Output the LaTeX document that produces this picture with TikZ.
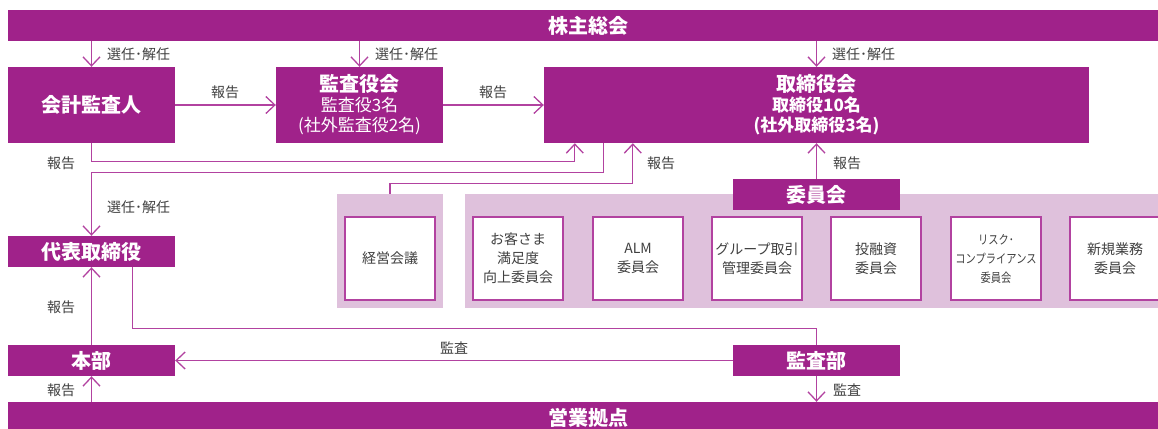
\documentclass[tikz,border=0pt]{standalone}
\usepackage{fontspec}
\setmainfont{Noto Sans CJK JP}
\usetikzlibrary{arrows.meta,calc}
\definecolor{mainpurple}{RGB}{160,34,138}
\definecolor{lightpink}{RGB}{223,193,220}
\definecolor{linepurple}{RGB}{178,66,160}
\definecolor{labelgray}{RGB}{64,64,64}
\tikzset{
  pbox/.style={fill=mainpurple, text=white, inner sep=0pt, align=center,
    font=\bfseries\fontsize{20}{22}\selectfont, minimum width=167pt, minimum height=31pt},
  groupbox/.style={fill=lightpink, inner sep=0pt, minimum height=114pt},
  ibox/.style={fill=white, draw=linepurple, line width=1.1pt, inner sep=0pt, align=center,
    text=labelgray, minimum width=90pt, minimum height=83pt,
    font=\fontsize{14}{19}\selectfont},
  lbl/.style={text=labelgray, inner sep=0pt, font=\fontsize{14}{16}\selectfont},
  conn/.style={draw=linepurple, line width=1.3pt},
  arr/.style={conn, -{Straight Barb[length=9pt,width=17pt]}}
}
\begin{document}
\begin{tikzpicture}[x=1pt,y=-1pt]
\useasboundingbox (0,0) rectangle (1158,428);
% bars
\node[pbox, minimum width=1160pt] (kabu) at (588,25.5) {株主総会};
\node[pbox, minimum width=1160pt] (eigyo) at (588,417.5) {営業拠点};
% main boxes
\node[pbox, minimum height=76pt] (kaikei) at (91.5,105) {会計監査人};
\node[pbox, minimum height=76pt, font=\fontsize{17}{20}\selectfont] (kansa) at (359.5,105)
  {{\bfseries\fontsize{20}{20}\selectfont 監査役会}\\監査役3名\\(社外監査役2名)};
\node[pbox, minimum width=545pt, minimum height=76pt, font=\bfseries\fontsize{17}{20}\selectfont] (tori) at (816.5,105)
  {{\fontsize{20}{20}\selectfont 取締役会}\\取締役10名\\(社外取締役3名)};
\node[pbox] (daihyo) at (91.5,251.5) {代表取締役};
\node[pbox] (honbu) at (91.5,360.5) {本部};
\node[pbox] (kansabu) at (816.5,360.5) {監査部};
% groups
\node[groupbox, minimum width=106pt] (g1) at (390,251) {};
\node[groupbox, minimum width=703pt] (g2) at (816.5,251) {};
\node[pbox] (iinkai) at (816.5,194.5) {委員会};
\node[ibox] (keiei) at (390,258.5) {経営会議};
\node[ibox] (okyaku) at (518,258.5) {お客さま\\満足度\\向上委員会};
\node[ibox] (alm) at (638,258.5) {ALM\\委員会};
\node[ibox] (group) at (757,258.5) {グループ取引\\管理委員会};
\node[ibox] (toyushi) at (876,258.5) {投融資\\委員会};
\node[ibox, font=\fontsize{12.5}{19}\selectfont] (risk) at (996,258.5)
  {\scalebox{0.82}[1]{リスク･}\\\scalebox{0.82}[1]{コンプライアンス}\\\scalebox{0.82}[1]{委員会}};
\node[ibox] (shinki) at (1115,258.5) {新規業務\\委員会};
% connectors
\draw[arr] (kabu.south -| kaikei.north) -- (kaikei.north);
\draw[arr] (kabu.south -| kansa.north) -- (kansa.north);
\draw[arr] (kabu.south -| tori.north) -- (tori.north);
\draw[arr] (kaikei.east) -- (kansa.west);
\draw[arr] (kansa.east) -- (tori.west);
\draw[arr] (kaikei.south) -- ++(0,18) -| ($(tori.south west)+(31,0)$);
\draw[arr] ($(tori.south west)+(60,0)$) -- ++(0,29) -| (daihyo.north);
\draw[arr] (g1.north) -- ++(0,-10) -| ($(tori.south west)+(89,0)$);
\draw[arr] (iinkai.north) -- (tori.south -| iinkai.north);
\draw[arr] (honbu.north) -- (daihyo.south);
\draw[conn] ($(daihyo.south west)+(125,0)$) -- ++(0,61) -| (kansabu.north);
\draw[arr] (kansabu.west) -- (honbu.east);
\draw[arr] (kansabu.south) -- (eigyo.north -| kansabu.south);
\draw[arr] (eigyo.north -| honbu.south) -- (honbu.south);
% labels
\node[lbl, anchor=west] (s1) at (107,54) {選任･解任};
\node[lbl, anchor=west] (s2) at (375,54) {選任･解任};
\node[lbl, anchor=west] (s3) at (832,54) {選任･解任};
\node[lbl, anchor=west] (s4) at (107,207) {選任･解任};
\node[lbl] (h1) at (225,92) {報告};
\node[lbl] (h2) at (493,92) {報告};
\node[lbl] (h3) at (61,163) {報告};
\node[lbl] (h4) at (661,163) {報告};
\node[lbl] (h5) at (847,163) {報告};
\node[lbl] (h6) at (61,307) {報告};
\node[lbl] (h7) at (61,390) {報告};
\node[lbl] (k1) at (454,348) {監査};
\node[lbl] (k2) at (847,390) {監査};
\end{tikzpicture}
\end{document}
